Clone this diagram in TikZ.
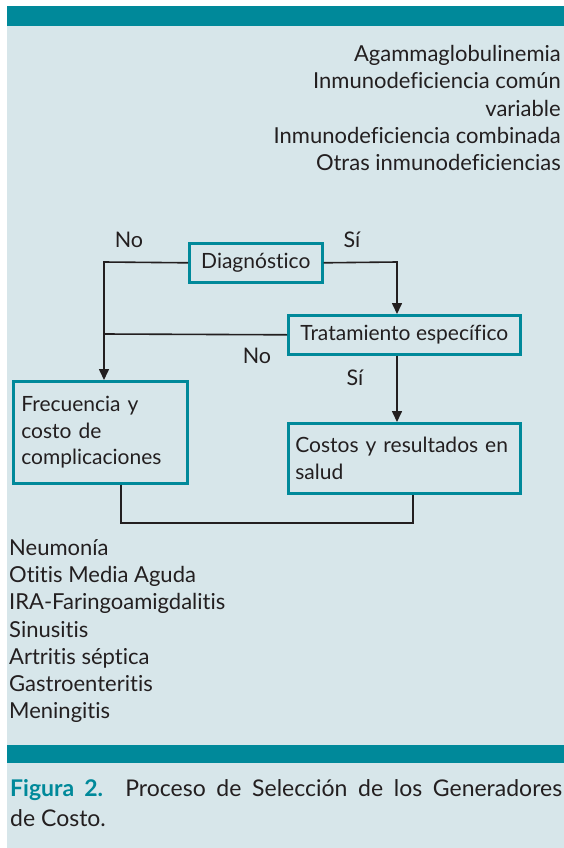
\documentclass[tikz,border=0pt]{standalone}
\usepackage{fontspec}
\setmainfont{Lato}[Ligatures={NoCommon}]
\usetikzlibrary{arrows.meta}
\definecolor{teal1}{HTML}{00899A}
\definecolor{bg}{HTML}{D7E6EA}
\definecolor{ink}{HTML}{231F20}
\tikzset{
  box/.style={draw=teal1, line width=2.6pt, inner sep=0pt, text=ink, font=\fontsize{21}{26.5}\selectfont},
  conn/.style={draw=ink, line width=1.6pt},
  arr/.style={conn, -{Triangle[length=11pt,width=10pt]}},
  lbl/.style={text=ink, font=\fontsize{21.5}{26}\selectfont, inner sep=0pt},
}
\begin{document}
\begin{tikzpicture}[x=1pt,y=-1pt]
\useasboundingbox (0,0) rectangle (564,848);
\fill[white] (0,0) rectangle (564,848);
\fill[bg] (7,6) rectangle (564,848);
\fill[teal1] (7,6) rectangle (564,26);
\fill[teal1] (7,745) rectangle (564,763);

% top-right list
\node[lbl, anchor=north east, align=right, font=\fontsize{22}{27.3}\selectfont] (toplist) at (561,45)
 {Agammaglobulinemia\\Inmunodeficiencia común\\variable\\Inmunodeficiencia combinada\\Otras inmunodeficiencias};

% boxes
\node[box, minimum width=133pt, minimum height=39pt, anchor=north west] (diag) at (188,242) {Diagnóstico};
\node[box, minimum width=232pt, minimum height=39pt, anchor=north west] (trat) at (287,314) {Tratamiento específico};
\node[box, minimum width=174pt, minimum height=102pt, anchor=north west, text width=158pt, align=left] (frec) at (12,380) {Frecuencia y\\costo de\\complicaciones};
\node[box, minimum width=232pt, minimum height=70pt, anchor=north west, text width=218pt, align=left] (cost) at (287,422) {Costos y resultados en\\salud};

% connectors
\coordinate (c1) at (104,262);
\coordinate (c2) at (397,262);
\coordinate (c3) at (104,334);
\coordinate (c4) at (121,523);
\coordinate (c5) at (413,523);
\draw[arr] (diag.west) -- (c1) -- (frec.north -| c1);
\draw[arr] (diag.east) -- (c2) -- (trat.north -| c2);
\draw[conn] (trat.west) -- (c3);
\draw[arr] (trat.south -| c2) -- (cost.north -| c2);
\draw[conn] (frec.south -| c4) -- (c4) -- (c5) -- (cost.south -| c5);

% labels
\node[lbl] (no1) at (129,240) {No};
\node[lbl] (si1) at (352,240) {Sí};
\node[lbl] (no2) at (257,356) {No};
\node[lbl] (si2) at (355,378) {Sí};

% bottom-left list
\node[lbl, anchor=north west, align=left, font=\fontsize{22}{27.3}\selectfont] (botlist) at (9,539)
 {Neumonía\\Otitis Media Aguda\\IRA-Faringoamigdalitis\\Sinusitis\\Artritis séptica\\Gastroenteritis\\Meningitis};

% caption
\node[lbl, anchor=north west, text width=552pt, align=justify, font=\fontsize{23}{30}\selectfont] (cap) at (10,779)
 {\textcolor{teal1}{\textbf{Figura 2.}} Proceso de Selección de los Generadores\linebreak de Costo.};
\end{tikzpicture}
\end{document}
